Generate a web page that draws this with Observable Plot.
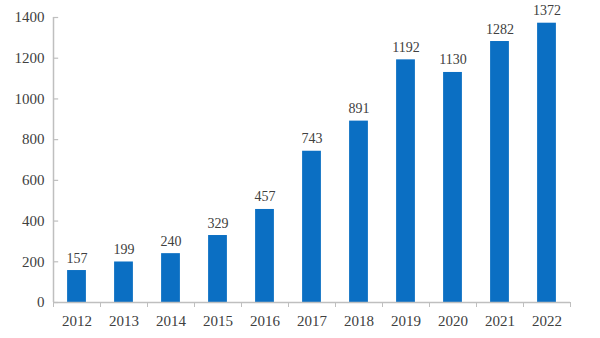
<!DOCTYPE html>
<html>
<head>
<meta charset="utf-8">
<script src="https://cdn.jsdelivr.net/npm/d3@7"></script>
<script src="https://cdn.jsdelivr.net/npm/@observablehq/plot@0.6"></script>
<style>
  html, body { margin: 0; padding: 0; background: #fff; }
  #chart svg { display: block; }
</style>
</head>
<body>
<div id="chart"></div>
<script>
const years = [2012, 2013, 2014, 2015, 2016, 2017, 2018, 2019, 2020, 2021, 2022];
const values = [157, 199, 240, 329, 457, 743, 891, 1192, 1130, 1282, 1372];
const yTicks = [0, 200, 400, 600, 800, 1000, 1200, 1400];

const data = years.map((year, i) => ({ year, value: values[i] }));
const boundaries = years.map(y => y - 0.5).concat([years[years.length - 1] + 0.5]);
const axisColor = "#bfbfbf";
const textColor = "#404040";
const font = "'Liberation Serif', 'DejaVu Serif', serif";

const chart = Plot.plot({
  width: 600,
  height: 338,
  marginLeft: 53,
  marginRight: 30,
  marginTop: 17,
  marginBottom: 36,
  style: { fontFamily: font, fontSize: "15px", color: textColor, background: "#fff" },
  x: { domain: [years[0] - 0.5, years[years.length - 1] + 0.5], axis: null },
  y: { domain: [0, 1400], axis: null },
  marks: [
    Plot.rectY(data, { x1: d => d.year - 0.2, x2: d => d.year + 0.2, y: "value", fill: "#0b6fc3" }),
    Plot.text(data, { x: "year", y: "value", text: d => String(d.value), lineAnchor: "bottom", dy: -8, fill: textColor, fontSize: 14 }),
    // y axis line and inward ticks
    Plot.ruleX([years[0] - 0.5], { stroke: axisColor, strokeWidth: 1.5 }),
    Plot.ruleY(yTicks, { y: d => d, x1: years[0] - 0.5, x2: years[0] - 0.39, stroke: axisColor, strokeWidth: 1.2 }),
    Plot.axisY(yTicks, { label: null, tickSize: 0, tickPadding: 9, fontSize: 15, fill: textColor, tickFormat: d => String(d) }),
    // x axis line, boundary ticks and labels
    Plot.ruleY([0], { stroke: axisColor, strokeWidth: 1.5 }),
    Plot.axisX(boundaries, { label: null, tickSize: 5, tickFormat: () => "", stroke: axisColor }),
    Plot.axisX(years, { label: null, tickSize: 0, tickPadding: 13, fontSize: 15, fill: textColor, tickFormat: d => String(d) })
  ]
});
document.getElementById("chart").appendChild(chart);
</script>
</body>
</html>
